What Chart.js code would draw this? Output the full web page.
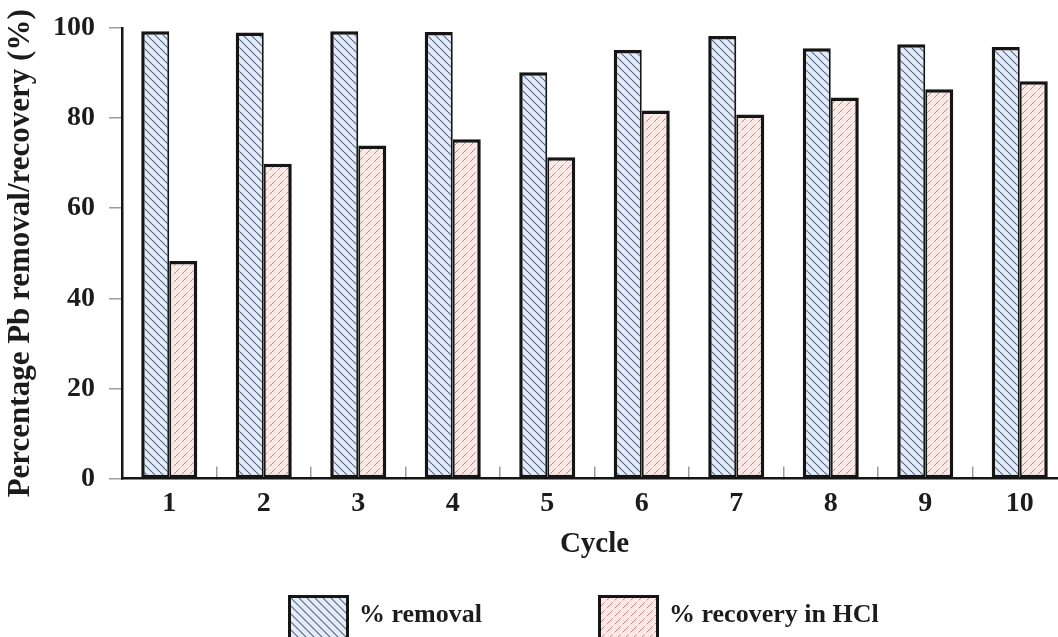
<!DOCTYPE html>
<html>
<head>
<meta charset="utf-8">
<script src="https://cdn.jsdelivr.net/npm/chart.js@4.4.1/dist/chart.umd.min.js"></script>
<style>
  html, body { margin: 0; padding: 0; background: #fff; overflow: hidden; width: 1058px; height: 637px; }
  #wrap { position: relative; width: 1058px; height: 637px; overflow: hidden; }
  #chart { position: absolute; left: 0; top: 0; }
  #legend { position: absolute; left: 288px; top: 595px; display: flex;
            font: bold 26px "Liberation Serif", "Times New Roman", serif; color: #1c1c1c; }
  .item { display: flex; align-items: flex-start; }
  .item:first-child { width: 310px; }
  .swatch { width: 61px; height: 48px; box-sizing: border-box; border: 3px solid #151515; }
  .text { margin-left: 10px; margin-top: 6px; line-height: 26px; white-space: nowrap; }
</style>
</head>
<body>
<div id="wrap">
  <canvas id="chart" width="1070" height="637"></canvas>
  <div id="legend"></div>
</div>
<script>
// Pb removal and recovery over ten adsorption/desorption cycles
const cycles = ['1', '2', '3', '4', '5', '6', '7', '8', '9', '10'];
const removal = [99.3, 99.0, 99.3, 99.1, 90.2, 95.1, 98.2, 95.5, 96.4, 95.8];
const recovery = [48.3, 69.9, 73.9, 75.3, 71.3, 81.7, 80.8, 84.6, 86.4, 88.2];
const yTickLabels = ['0', '20', '40', '60', '80', '100'];
const seriesNames = ['% removal', '% recovery in HCl'];

const SERIF = '"Liberation Serif", "Times New Roman", serif';

// Hatched tile: light ground with diagonal strokes
function makeHatch(ground, stroke, size, width, forward, dash) {
  const c = document.createElement('canvas');
  c.width = size; c.height = size;
  const g = c.getContext('2d');
  g.fillStyle = ground;
  g.fillRect(0, 0, size, size);
  g.strokeStyle = stroke;
  g.lineWidth = width;
  if (dash) g.setLineDash(dash);
  g.beginPath();
  for (let k = -1; k <= 1; k++) {
    if (forward) {            // "/" direction
      g.moveTo(k * size, size);
      g.lineTo(k * size + size, 0);
    } else {                  // "\" direction
      g.moveTo(k * size, 0);
      g.lineTo(k * size + size, size);
    }
  }
  g.stroke();
  return c;
}

const blueTile = makeHatch('#e4edf7', '#5a6a8e', 8, 1.2, false, null);
const pinkTile = makeHatch('#fae8e4', '#cc8282', 8, 1.0, true, [5, 3]);

const ctx = document.getElementById('chart').getContext('2d');
const blueFill = ctx.createPattern(blueTile, 'repeat');
const pinkFill = ctx.createPattern(pinkTile, 'repeat');

const chart = new Chart(ctx, {
  type: 'bar',
  data: {
    labels: cycles,
    datasets: [
      {
        label: seriesNames[0],
        data: removal,
        backgroundColor: blueFill,
        borderColor: '#151515',
        borderWidth: { top: 3.5, left: 3.5, right: 2, bottom: 3 },
        borderSkipped: false,
        categoryPercentage: 0.593,
        barPercentage: 1.0
      },
      {
        label: seriesNames[1],
        data: recovery,
        backgroundColor: pinkFill,
        borderColor: '#151515',
        borderWidth: { top: 3.5, left: 2, right: 3.5, bottom: 3 },
        borderSkipped: false,
        categoryPercentage: 0.593,
        barPercentage: 1.0
      }
    ]
  },
  options: {
    responsive: false,
    animation: false,
    devicePixelRatio: 1,
    layout: { padding: { top: 20, right: 3, bottom: 75, left: 0 } },
    plugins: {
      legend: { display: false },
      tooltip: { enabled: false }
    },
    scales: {
      x: {
        offset: true,
        grid: { offset: true, drawOnChartArea: false, tickLength: -12, color: '#9c9c9c', lineWidth: 1.5 },
        border: { color: '#151515', width: 2.5 },
        ticks: { color: '#1c1c1c', padding: 20, font: { family: SERIF, size: 28, weight: 'bold' } },
        title: {
          display: true, text: 'Cycle', color: '#1c1c1c',
          padding: { top: -13, bottom: 0 },
          font: { family: SERIF, size: 29, weight: 'bold' }
        }
      },
      y: {
        min: 0, max: 100,
        ticks: {
          stepSize: 20, color: '#1c1c1c', padding: 14,
          font: { family: SERIF, size: 28, weight: 'bold', lineHeight: 1.0 },
          callback: (v, i) => yTickLabels[i]
        },
        grid: { drawOnChartArea: false, tickLength: 13, color: '#9c9c9c', lineWidth: 1.5 },
        border: { color: '#151515', width: 2.5 },
        title: {
          display: true, text: 'Percentage Pb removal/recovery (%)', color: '#1c1c1c',
          padding: { top: 2, bottom: 0 },
          font: { family: SERIF, size: 31, weight: 'bold' }
        },
        afterFit: (scale) => { scale.width = 122; }
      }
    }
  }
});

// Legend built from the chart's own datasets
const legend = document.getElementById('legend');
const tiles = [blueTile, pinkTile];
chart.data.datasets.forEach((ds, i) => {
  const item = document.createElement('div');
  item.className = 'item';
  const sw = document.createElement('span');
  sw.className = 'swatch';
  sw.style.background = 'url(' + tiles[i].toDataURL() + ')';
  const tx = document.createElement('span');
  tx.className = 'text';
  tx.textContent = ds.label;
  item.appendChild(sw);
  item.appendChild(tx);
  legend.appendChild(item);
});
</script>
</body>
</html>
